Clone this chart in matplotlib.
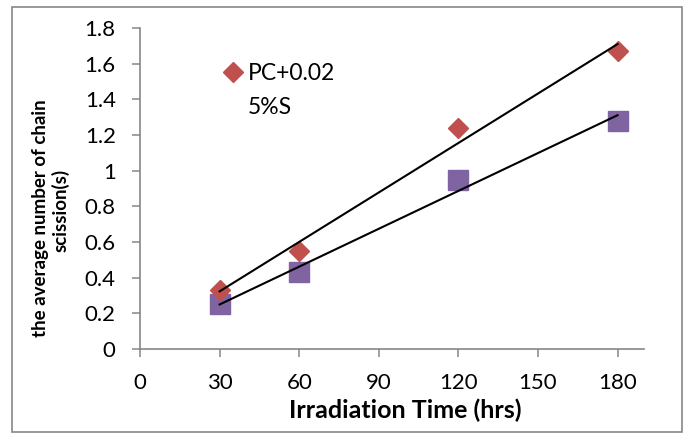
import numpy as np
import matplotlib.pyplot as plt
from matplotlib.lines import Line2D
from matplotlib.patches import Rectangle

# data
hours = [30, 60, 120, 180]
pc_002 = [0.33, 0.55, 1.24, 1.67]
pc_5s = [0.25, 0.43, 0.95, 1.28]
x_ticks = [0, 30, 60, 90, 120, 150, 180]
y_ticks = [0, 0.2, 0.4, 0.6, 0.8, 1, 1.2, 1.4, 1.6, 1.8]
y_tick_labels = ['0', '0.2', '0.4', '0.6', '0.8', '1', '1.2', '1.4', '1.6', '1.8']

red = '#C0504D'
purple = '#8064A2'
gray = '#868686'

plt.rcParams['font.family'] = ['Lato', 'DejaVu Sans']

fig = plt.figure(figsize=(6.83, 4.33), dpi=100)
ax = fig.add_axes([0.205, 0.194, 0.738, 0.741])

x = np.array(hours, dtype=float)
ax.plot(x, pc_5s, 's', color=purple, markersize=14, zorder=3)
ax.plot(x, pc_002, 'D', color=red, markersize=10, zorder=3)

# linear trend lines
for ys in (pc_002, pc_5s):
    k, b = np.polyfit(x, ys, 1)
    xs = np.array([x.min(), x.max()])
    ax.plot(xs, k * xs + b, color='black', linewidth=1.5, zorder=4)

ax.set_xlim(0, 190)
ax.set_ylim(0, 1.8)
ax.set_xticks(x_ticks)
ax.set_yticks(y_ticks)
ax.set_yticklabels(y_tick_labels)
ax.tick_params(direction='out', length=5.5, width=1.1, color=gray, labelsize=16, pad=12)

for side in ('top', 'right'):
    ax.spines[side].set_visible(False)
for side in ('left', 'bottom'):
    ax.spines[side].set_color(gray)
    ax.spines[side].set_linewidth(1.2)

ax.set_xlabel('Irradiation Time (hrs)', fontsize=18, fontweight='bold')
ax.xaxis.set_label_coords(0.526, -0.155)

# y label: two centred lines, drawn separately
ylabel_kw = dict(fontsize=13.5, fontweight='bold', rotation=90, ha='center', va='center')
fig.text(0.060, 0.495, 'the average number of chain', **ylabel_kw)
fig.text(0.089, 0.515, 'scission(s)', **ylabel_kw)

handles = [Line2D([], [], marker='D', color=red, linestyle='none', markersize=10),
           Line2D([], [], marker='s', color='none', linestyle='none', markersize=10)]
ax.legend(handles, ['PC+0.02', '5%S'], loc='upper left', bbox_to_anchor=(0.162, 0.89),
          frameon=False, fontsize=16.5, handletextpad=0.15, labelspacing=0.55,
          handlelength=1.0, borderpad=0, borderaxespad=0)

fig.patches.append(Rectangle((0.018, 0.003), 0.98, 0.98, transform=fig.transFigure,
                             fill=False, edgecolor=gray, linewidth=1.2))

fig.savefig('out.png', dpi=100)
